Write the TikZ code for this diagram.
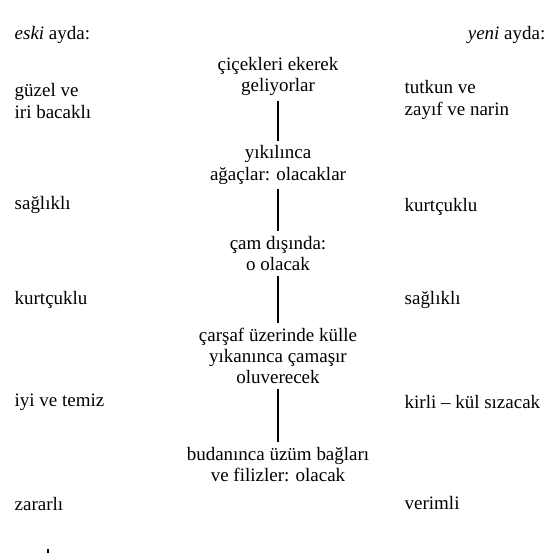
\documentclass[tikz,border=0pt]{standalone}
\usepackage{fontspec}
\setmainfont{Liberation Serif}

\begin{document}
\begin{tikzpicture}[x=0.025cm,y=-0.025cm,
    txt/.style={font=\fontsize{13.5}{15}\selectfont,inner sep=1pt,align=left},
    mid/.style={txt,align=center,inner sep=2.5pt},
    link/.style={line width=1.3pt,shorten <=1pt,shorten >=1pt}]
    \useasboundingbox (0,0) rectangle (559,559);

    \node (eski) [txt,anchor=west] at (13,35) {\textit{eski} ayda:};
    \node (yeni) [txt,anchor=east] at (547,35) {\textit{yeni} ayda:};

    \node (A) [mid] at (278,76.5) {çiçekleri ekerek\\geliyorlar};
    \node (B) [mid] at (278,165) {yıkılınca\\ağaçlar: olacaklar};
    \node (C) [mid] at (278,253.5) {çam dışında:\\o olacak};
    \node (D) [mid] at (278,356) {çarşaf üzerinde külle\\yıkanınca çamaşır\\oluverecek};
    \node (E) [mid] at (278,464.5) {budanınca üzüm bağları\\ve filizler: olacak};

    \draw [link] (A) -- (B);
    \draw [link] (B) -- (C);
    \draw [link] (C) -- (D);
    \draw [link] (D) -- (E);

    \node (L1) [txt,anchor=west] at (13,101) {güzel ve\\iri bacaklı};
    \node (L2) [txt,anchor=west] at (13,205) {sağlıklı};
    \node (L3) [txt,anchor=west] at (13,300) {kurtçuklu};
    \node (L4) [txt,anchor=west] at (13,402) {iyi ve temiz};
    \node (L5) [txt,anchor=west] at (13,504) {zararlı};

    \node (R1) [txt,anchor=west] at (403,100) {tutkun ve\\zayıf ve narin};
    \node (R2) [txt,anchor=west] at (403,207) {kurtçuklu};
    \node (R3) [txt,anchor=west] at (403,300) {sağlıklı};
    \node (R4) [txt,anchor=west] at (403,402) {kirli – kül sızacak};
    \node (R5) [txt,anchor=west] at (403,503) {verimli};

    \draw [line width=0.8pt] (48,549) -- (48,553);
\end{tikzpicture}
\end{document}
